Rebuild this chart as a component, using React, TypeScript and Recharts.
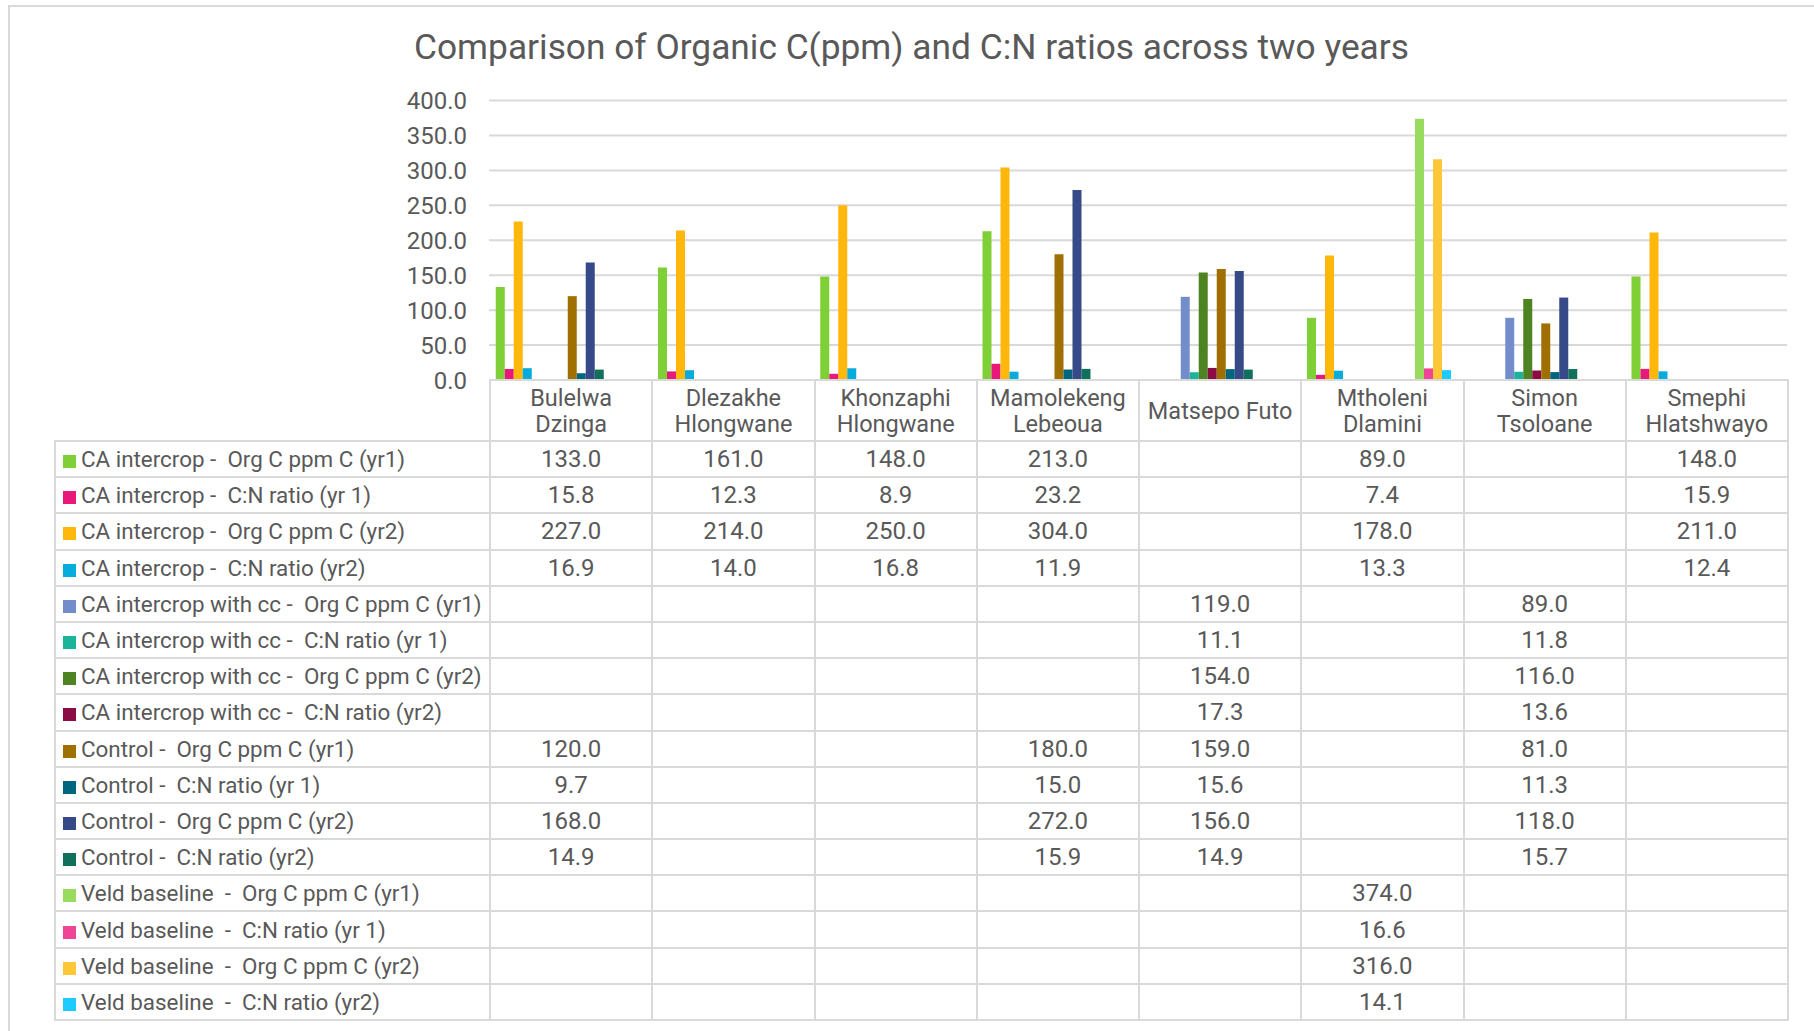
import { BarChart, Bar, XAxis, YAxis, CartesianGrid } from "recharts";

// Sites (categories) — the header of the data table splits them over two lines
const sites = [
  "Bulelwa Dzinga",
  "Dlezakhe Hlongwane",
  "Khonzaphi Hlongwane",
  "Mamolekeng Lebeoua",
  "Matsepo Futo",
  "Mtholeni Dlamini",
  "Simon Tsoloane",
  "Smephi Hlatshwayo",
];
const siteLines = [
  ["Bulelwa", "Dzinga"],
  ["Dlezakhe", "Hlongwane"],
  ["Khonzaphi", "Hlongwane"],
  ["Mamolekeng", "Lebeoua"],
  ["Matsepo Futo"],
  ["Mtholeni", "Dlamini"],
  ["Simon", "Tsoloane"],
  ["Smephi", "Hlatshwayo"],
];

const yTicks = [0, 50, 100, 150, 200, 250, 300, 350, 400];

// Series values, one entry per site (null = no sample)
const caOrgYr1 = [133.0, 161.0, 148.0, 213.0, null, 89.0, null, 148.0];
const caCnYr1 = [15.8, 12.3, 8.9, 23.2, null, 7.4, null, 15.9];
const caOrgYr2 = [227.0, 214.0, 250.0, 304.0, null, 178.0, null, 211.0];
const caCnYr2 = [16.9, 14.0, 16.8, 11.9, null, 13.3, null, 12.4];
const ccOrgYr1 = [null, null, null, null, 119.0, null, 89.0, null];
const ccCnYr1 = [null, null, null, null, 11.1, null, 11.8, null];
const ccOrgYr2 = [null, null, null, null, 154.0, null, 116.0, null];
const ccCnYr2 = [null, null, null, null, 17.3, null, 13.6, null];
const ctlOrgYr1 = [120.0, null, null, 180.0, 159.0, null, 81.0, null];
const ctlCnYr1 = [9.7, null, null, 15.0, 15.6, null, 11.3, null];
const ctlOrgYr2 = [168.0, null, null, 272.0, 156.0, null, 118.0, null];
const ctlCnYr2 = [14.9, null, null, 15.9, 14.9, null, 15.7, null];
const veldOrgYr1 = [null, null, null, null, null, 374.0, null, null];
const veldCnYr1 = [null, null, null, null, null, 16.6, null, null];
const veldOrgYr2 = [null, null, null, null, null, 316.0, null, null];
const veldCnYr2 = [null, null, null, null, null, 14.1, null, null];

const series = [
  { key: "caOrgYr1", label: "CA intercrop -  Org C ppm C (yr1)", color: "#7fcf37", values: caOrgYr1 },
  { key: "caCnYr1", label: "CA intercrop -  C:N ratio (yr 1)", color: "#e8197a", values: caCnYr1 },
  { key: "caOrgYr2", label: "CA intercrop -  Org C ppm C (yr2)", color: "#ffb70c", values: caOrgYr2 },
  { key: "caCnYr2", label: "CA intercrop -  C:N ratio (yr2)", color: "#06acdb", values: caCnYr2 },
  { key: "ccOrgYr1", label: "CA intercrop with cc -  Org C ppm C (yr1)", color: "#738cca", values: ccOrgYr1 },
  { key: "ccCnYr1", label: "CA intercrop with cc -  C:N ratio (yr 1)", color: "#1bb39a", values: ccCnYr1 },
  { key: "ccOrgYr2", label: "CA intercrop with cc -  Org C ppm C (yr2)", color: "#4d8421", values: ccOrgYr2 },
  { key: "ccCnYr2", label: "CA intercrop with cc -  C:N ratio (yr2)", color: "#8b0c45", values: ccCnYr2 },
  { key: "ctlOrgYr1", label: "Control -  Org C ppm C (yr1)", color: "#9f7000", values: ctlOrgYr1 },
  { key: "ctlCnYr1", label: "Control -  C:N ratio (yr 1)", color: "#00667f", values: ctlCnYr1 },
  { key: "ctlOrgYr2", label: "Control -  Org C ppm C (yr2)", color: "#354a87", values: ctlOrgYr2 },
  { key: "ctlCnYr2", label: "Control -  C:N ratio (yr2)", color: "#10705c", values: ctlCnYr2 },
  { key: "veldOrgYr1", label: "Veld baseline  -  Org C ppm C (yr1)", color: "#99db5f", values: veldOrgYr1 },
  { key: "veldCnYr1", label: "Veld baseline  -  C:N ratio (yr 1)", color: "#ef4596", values: veldCnYr1 },
  { key: "veldOrgYr2", label: "Veld baseline  -  Org C ppm C (yr2)", color: "#ffc737", values: veldOrgYr2 },
  { key: "veldCnYr2", label: "Veld baseline  -  C:N ratio (yr2)", color: "#1ccbff", values: veldCnYr2 },
];

const chartData = sites.map((name, i) => {
  const row: Record<string, string | number | null> = { name };
  series.forEach((s) => (row[s.key] = s.values[i]));
  return row;
});

// layout (px, page coords)
const W = 1814;
const H = 1031;
const PLOT_LEFT = 489;
const PLOT_RIGHT = 1787;
const PLOT_TOP = 100.5;
const PLOT_BOTTOM = 380;
const TABLE_LEFT = 54;
const HEADER_H = 61;
const ROW_H = 36.2;
const COL_W = (PLOT_RIGHT - PLOT_LEFT) / sites.length;

const FONT = "Roboto, 'Noto Sans', sans-serif";
const TEXT = "#595959";
const LINE = "#d9d9d9";

const cellBorder = `2px solid ${LINE}`;

export default function App() {
  return (
    <div
      style={{
        position: "absolute",
        left: 0,
        top: 0,
        width: W,
        height: H,
        overflow: "hidden",
        background: "#fff",
        fontFamily: FONT,
        color: TEXT,
      }}
    >
      {/* chart frame (left/top edges visible) */}
      <div
        style={{
          position: "absolute",
          left: 8,
          top: 5,
          width: W,
          height: H,
          borderLeft: `2px solid ${LINE}`,
          borderTop: `2px solid ${LINE}`,
        }}
      />
      <div
        style={{
          position: "absolute",
          left: 0,
          width: 1823,
          top: 22,
          textAlign: "center",
          fontSize: 35.3,
          lineHeight: "50px",
          whiteSpace: "nowrap",
        }}
      >
        Comparison of Organic C(ppm) and C:N ratios across two years
      </div>

      <div style={{ position: "absolute", left: 0, top: 0 }}>
        <BarChart
          width={W}
          height={H}
          data={chartData}
          margin={{ top: PLOT_TOP, right: W - PLOT_RIGHT, bottom: H - PLOT_BOTTOM, left: 0 }}
          barCategoryGap={6.75}
          barGap={0}
        >
          <CartesianGrid vertical={false} stroke={LINE} strokeWidth={2} />
          <XAxis dataKey="name" hide />
          <YAxis
            width={PLOT_LEFT}
            domain={[0, 400]}
            ticks={yTicks}
            interval={0}
            axisLine={false}
            tickLine={false}
            tickSize={0}
            tickMargin={22}
            tickFormatter={(v: number) => v.toFixed(1)}
            tick={{ fontSize: 24, fill: TEXT, fontFamily: FONT }}
          />
          {series.map((s) => (
            <Bar key={s.key} dataKey={s.key} name={s.label} fill={s.color} isAnimationActive={false} />
          ))}
        </BarChart>
      </div>

      {/* data table */}
      <table
        style={{
          position: "absolute",
          left: TABLE_LEFT,
          top: PLOT_BOTTOM - 1,
          borderCollapse: "collapse",
          tableLayout: "fixed",
          width: PLOT_RIGHT - TABLE_LEFT,
          fontFamily: FONT,
          color: TEXT,
        }}
      >
        <colgroup>
          <col style={{ width: PLOT_LEFT - TABLE_LEFT }} />
          {sites.map((s) => (
            <col key={s} style={{ width: COL_W }} />
          ))}
        </colgroup>
        <tbody>
          <tr style={{ height: HEADER_H }}>
            <td style={{ padding: 0 }} />
            {siteLines.map((lines, i) => (
              <td
                key={i}
                style={{
                  border: cellBorder,
                  padding: 0,
                  textAlign: "center",
                  fontSize: 23.5,
                  lineHeight: "26px",
                }}
              >
                {lines.map((l) => (
                  <div key={l}>{l}</div>
                ))}
              </td>
            ))}
          </tr>
          {series.map((s) => (
            <tr key={s.key} style={{ height: ROW_H }}>
              <td
                style={{
                  border: cellBorder,
                  padding: "0 0 0 7px",
                  fontSize: 22.4,
                  whiteSpace: "pre",
                  overflow: "hidden",
                }}
              >
                <span
                  style={{
                    display: "inline-block",
                    width: 13,
                    height: 13,
                    background: s.color,
                    marginRight: 5,
                    verticalAlign: "-1px",
                  }}
                />
                {s.label}
              </td>
              {s.values.map((v, i) => (
                <td
                  key={i}
                  style={{ border: cellBorder, padding: 0, textAlign: "center", fontSize: 24 }}
                >
                  {v == null ? "" : v.toFixed(1)}
                </td>
              ))}
            </tr>
          ))}
        </tbody>
      </table>
    </div>
  );
}
